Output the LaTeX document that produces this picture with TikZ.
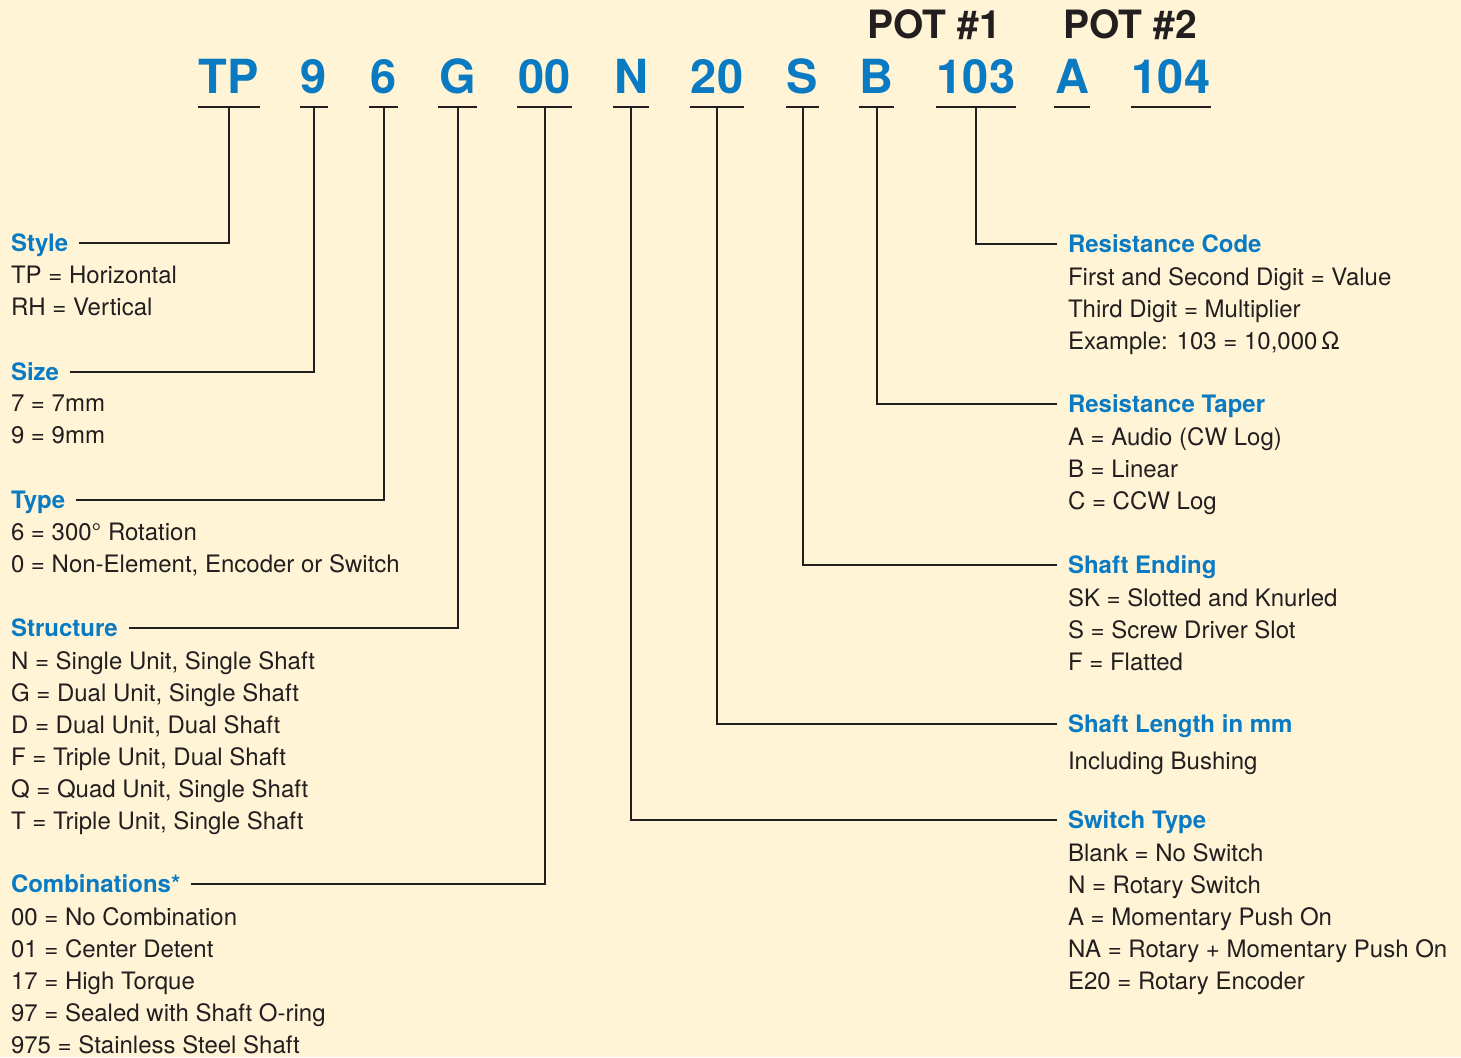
\documentclass[tikz,border=0pt]{standalone}
\usepackage{fontspec}
\setmainfont{TeX Gyre Heros}
\usetikzlibrary{positioning}
\definecolor{cblue}{HTML}{0A7AC2}
\definecolor{cink}{HTML}{231F20}
\definecolor{ccream}{HTML}{FFF5D6}
\tikzset{
  every picture/.style={x=0.5pt, y=-0.5pt, line width=1pt},
  code/.style={font=\bfseries\fontsize{23.5}{28}\selectfont, text=cblue, inner xsep=0pt, inner ysep=6.5pt, text depth=0pt, anchor=base},
  pot/.style={font=\bfseries\fontsize{19.5}{23}\selectfont, text=cink, anchor=base},
  head/.style={font=\bfseries\fontsize{12}{16}\selectfont, text=cblue, inner xsep=5pt, inner ysep=0pt, text height=8.7pt, text depth=0pt, anchor=west},
  body/.style={font=\fontsize{12}{16}\selectfont, text=cink, align=left, inner xsep=5pt, inner ysep=0pt, execute at begin node=\strut},
  link/.style={draw=cink, line width=1pt},
}
\begin{document}
\begin{tikzpicture}
  \fill[ccream] (0,0) rectangle (1461,1057);
  \useasboundingbox (0,0) rectangle (1461,1057);

  % part number
  \foreach \name/\txt/\x in {TP/TP/229, Size/9/314, Type/6/383.5, Struct/G/457.5, Comb/00/544.5,
      Switch/N/631, Length/20/717, End/S/802.5, TaperA/B/876.5, ResA/103/976, TaperB/A/1072, ResB/104/1171}
  {
    \node[code] (c\name) at (\x,93) {\txt};
    \draw[link] (c\name.south west) -- (c\name.south east);
  }
  \node[pot] (pot1) at (934,38) {POT \#1};
  \node[pot] (pot2) at (1130,38) {POT \#2};

  % left column
  \node[head] (hStyle) at (0,243) {Style};
  \node[body, below right=6.3pt and 0pt of hStyle.south west] (bStyle)
    {TP = Horizontal\\RH = Vertical};
  \node[head] (hSize) at (0,372) {Size};
  \node[body, below right=6.3pt and 0pt of hSize.south west] (bSize)
    {7 = 7mm\\9 = 9mm};
  \node[head] (hType) at (0,500) {Type};
  \node[body, below right=6.3pt and 0pt of hType.south west] (bType)
    {6 = 300° Rotation\\0 = Non-Element, Encoder or Switch};
  \node[head] (hStruct) at (0,628) {Structure};
  \node[body, below right=6.3pt and 0pt of hStruct.south west] (bStruct)
    {N = Single Unit, Single Shaft\\G = Dual Unit, Single Shaft\\D = Dual Unit, Dual Shaft\\
     F = Triple Unit, Dual Shaft\\Q = Quad Unit, Single Shaft\\T = Triple Unit, Single Shaft};
  \node[head] (hComb) at (0,884) {Combinations*};
  \node[body, below right=6.3pt and 0pt of hComb.south west] (bComb)
    {00 = No Combination\\01 = Center Detent\\17 = High Torque\\
     97 = Sealed with Shaft O-ring\\975 = Stainless Steel Shaft};

  % right column
  \node[head] (hRes) at (1057,244) {Resistance Code};
  \node[body, below right=6.3pt and 0pt of hRes.south west] (bRes)
    {First and Second Digit = Value\\Third Digit = Multiplier\\Example: 103 = 10,000\,Ω};
  \node[head] (hTaper) at (1057,404) {Resistance Taper};
  \node[body, below right=6.3pt and 0pt of hTaper.south west] (bTaper)
    {A = Audio (CW Log)\\B = Linear\\C = CCW Log};
  \node[head] (hEnd) at (1057,565) {Shaft Ending};
  \node[body, below right=6.3pt and 0pt of hEnd.south west] (bEnd)
    {SK = Slotted and Knurled\\S = Screw Driver Slot\\F = Flatted};
  \node[head] (hLength) at (1057,724) {Shaft Length in mm};
  \node[body, below right=6.3pt and 0pt of hLength.south west] (bLength)
    {Including Bushing};
  \node[head] (hSwitch) at (1057,820) {Switch Type};
  \node[body, below right=6.3pt and 0pt of hSwitch.south west] (bSwitch)
    {Blank = No Switch\\N = Rotary Switch\\A = Momentary Push On\\
     NA = Rotary + Momentary Push On\\E20 = Rotary Encoder};

  % leaders
  \draw[link] (cTP.south) |- (hStyle.east);
  \draw[link] (cSize.south) |- (hSize.east);
  \draw[link] (cType.south) |- (hType.east);
  \draw[link] (cStruct.south) |- (hStruct.east);
  \draw[link] (cComb.south) |- (hComb.east);
  \draw[link] (cSwitch.south) |- (hSwitch.west);
  \draw[link] (cLength.south) |- (hLength.west);
  \draw[link] (cEnd.south) |- (hEnd.west);
  \draw[link] (cTaperA.south) |- (hTaper.west);
  \draw[link] (cResA.south) |- (hRes.west);
\end{tikzpicture}
\end{document}
